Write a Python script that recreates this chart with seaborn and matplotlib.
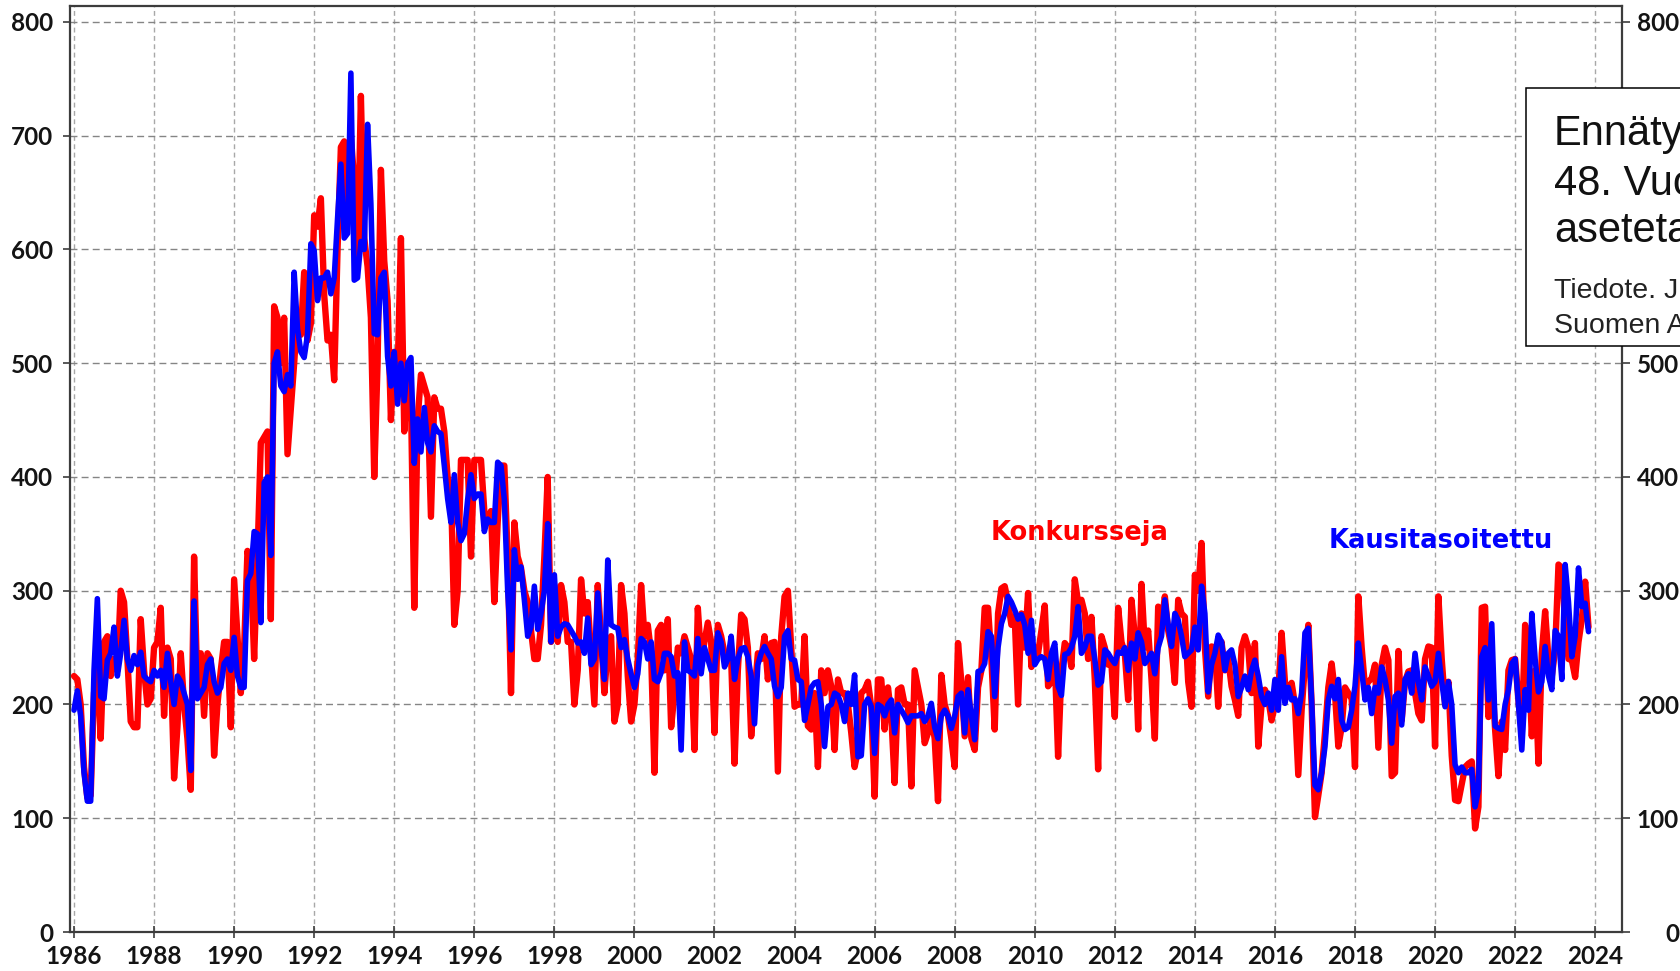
import numpy as np
import pandas as pd
import matplotlib
matplotlib.use("Agg")
import matplotlib.pyplot as plt
from matplotlib.patches import Rectangle
import seaborn as sns

# ---------------- data (monthly, from Jan 1986) ----------------
start_year = 1986

konk_1986_1989 = [
    225, 222, 200, 145, 118, 120, 210, 240, 170, 255, 260, 225,   # 1986
    240, 230, 300, 290, 240, 185, 180, 180, 275, 230, 200, 205,   # 1987
    250, 255, 285, 190, 250, 240, 135, 180, 245, 200, 170, 125,   # 1988
    330, 210, 245, 190, 245, 240, 155, 200, 230, 255, 255, 180,   # 1989
]
konk_1990s = [
    310, 260, 210, 250, 335, 320, 240, 330, 430, 435, 440, 275,   # 1990
    550, 540, 500, 540, 420, 460, 500, 545, 525, 580, 520, 535,   # 1991
    630, 620, 645, 560, 520, 525, 485, 600, 690, 695, 640, 700,   # 1992
    660, 590, 735, 610, 585, 540, 400, 500, 670, 590, 555, 450,   # 1993
    510, 490, 610, 440, 490, 470, 285, 450, 490, 480, 470, 365,   # 1994
    470, 460, 460, 440, 400, 390, 270, 300, 415, 415, 415, 330,   # 1995
    415, 415, 415, 370, 360, 370, 290, 360, 410, 410, 330, 210,   # 1996
    360, 330, 320, 300, 290, 265, 240, 240, 270, 330, 400, 255,   # 1997
    305, 255, 305, 290, 255, 255, 200, 230, 310, 280, 290, 245,   # 1998
    200, 305, 260, 210, 250, 260, 185, 200, 305, 280, 225, 185,   # 1999
]
konk_2000s = [
    200, 240, 305, 260, 270, 245, 140, 265, 270, 230, 275, 180,   # 2000
    210, 250, 245, 260, 250, 240, 160, 285, 240, 255, 272, 255,   # 2001
    175, 270, 260, 245, 245, 240, 148, 230, 279, 275, 250, 172,   # 2002
    210, 245, 240, 260, 222, 254, 255, 141, 260, 295, 300, 250,   # 2003
    198, 200, 200, 260, 181, 178, 210, 145, 230, 210, 230, 216,   # 2004
    160, 222, 210, 210, 200, 175, 145, 160, 210, 213, 220, 198,   # 2005
    119, 222, 222, 178, 215, 190, 131, 213, 215, 200, 200, 128,   # 2006
    230, 215, 200, 166, 175, 190, 170, 115, 226, 200, 190, 170,   # 2007
    145, 254, 220, 172, 224, 170, 160, 215, 230, 285, 285, 240,   # 2008
    178, 280, 302, 304, 290, 270, 277, 200, 280, 250, 298, 233,   # 2009
]
konk_2010s = [
    250, 245, 265, 287, 216, 220, 240, 154, 230, 254, 250, 233,   # 2010
    310, 290, 292, 280, 240, 277, 222, 143, 260, 250, 235, 235,   # 2011
    189, 285, 255, 245, 204, 292, 260, 178, 306, 250, 265, 222,   # 2012
    170, 286, 270, 295, 265, 250, 219, 292, 280, 277, 220, 198,   # 2013
    314, 300, 342, 250, 207, 251, 250, 198, 255, 230, 240, 216,   # 2014
    204, 190, 250, 260, 250, 210, 254, 163, 200, 213, 205, 186,   # 2015
    200, 210, 263, 220, 210, 219, 200, 138, 195, 235, 270, 200,   # 2016
    101, 120, 140, 175, 215, 236, 210, 163, 180, 215, 210, 205,   # 2017
    145, 295, 250, 215, 220, 223, 235, 162, 235, 250, 239, 137,   # 2018
    140, 247, 186, 220, 229, 230, 210, 192, 186, 240, 251, 250,   # 2019
]
konk_2020s = [
    163, 295, 240, 200, 220, 155, 116, 115, 130, 145, 148, 150,   # 2020
    91, 110, 285, 286, 189, 230, 178, 137, 185, 160, 230, 239,    # 2021
    240, 204, 175, 270, 248, 172, 230, 148, 245, 282, 240, 225,   # 2022
    248, 323, 320, 270, 240, 239, 224, 255, 275, 308, 268,        # 2023
]

kaus_1986_1989 = [
    195, 212, 190, 140, 115, 115, 230, 293, 207, 205, 239, 245,   # 1986
    268, 225, 245, 274, 240, 230, 243, 235, 246, 225, 222, 220,   # 1987
    230, 225, 230, 215, 245, 220, 200, 225, 220, 210, 200, 142,   # 1988
    291, 205, 210, 215, 235, 240, 220, 210, 215, 236, 240, 230,   # 1989
]
kaus_1990s = [
    259, 225, 215, 215, 309, 315, 352, 350, 272, 395, 400, 331,   # 1990
    500, 510, 480, 475, 490, 480, 580, 530, 510, 505, 525, 605,   # 1991
    599, 555, 575, 575, 580, 561, 575, 627, 675, 610, 614, 755,   # 1992
    573, 575, 607, 600, 710, 640, 526, 525, 575, 580, 506, 480,   # 1993
    510, 464, 500, 467, 500, 505, 412, 451, 422, 461, 430, 422,   # 1994
    445, 440, 438, 410, 381, 360, 402, 360, 344, 350, 380, 402,   # 1995
    381, 385, 385, 352, 363, 360, 360, 413, 410, 380, 300, 248,   # 1996
    336, 310, 321, 292, 260, 268, 304, 266, 280, 300, 359, 255,   # 1997
    314, 260, 268, 271, 270, 265, 260, 254, 255, 245, 276, 235,   # 1998
    240, 298, 250, 222, 327, 270, 268, 267, 250, 257, 240, 227,   # 1999
]
kaus_2000s = [
    215, 227, 258, 255, 240, 255, 222, 220, 228, 245, 245, 242,   # 2000
    225, 228, 160, 255, 230, 228, 225, 258, 227, 250, 240, 230,   # 2001
    230, 263, 255, 233, 240, 260, 222, 240, 249, 250, 242, 225,   # 2002
    183, 235, 245, 251, 245, 240, 216, 207, 215, 260, 265, 240,   # 2003
    239, 222, 220, 186, 200, 215, 219, 220, 200, 163, 198, 200,   # 2004
    210, 208, 200, 185, 210, 200, 226, 154, 155, 200, 205, 198,   # 2005
    157, 200, 198, 190, 200, 204, 175, 200, 195, 190, 184, 190,   # 2006
    190, 190, 192, 185, 190, 201, 180, 170, 190, 195, 190, 179,   # 2007
    190, 207, 210, 175, 213, 190, 169, 229, 230, 236, 264, 260,   # 2008
    207, 250, 271, 280, 295, 290, 283, 275, 279, 270, 245, 274,   # 2009
]
kaus_2010s = [
    235, 240, 242, 240, 222, 245, 254, 216, 208, 244, 245, 250,   # 2010
    260, 286, 245, 250, 260, 260, 240, 217, 220, 248, 245, 240,   # 2011
    236, 246, 245, 250, 230, 254, 240, 263, 255, 236, 240, 245,   # 2012
    227, 250, 260, 292, 270, 251, 280, 274, 260, 242, 245, 248,   # 2013
    268, 248, 304, 280, 211, 235, 245, 261, 255, 230, 245, 248,   # 2014
    235, 207, 215, 225, 213, 230, 239, 225, 207, 200, 210, 195,   # 2015
    222, 195, 242, 201, 215, 204, 205, 192, 210, 263, 267, 204,   # 2016
    129, 125, 140, 163, 204, 216, 205, 222, 186, 178, 180, 195,   # 2017
    216, 254, 230, 204, 215, 192, 215, 210, 233, 222, 204, 166,   # 2018
    207, 210, 182, 222, 227, 210, 245, 220, 204, 233, 225, 216,   # 2019
]
kaus_2020s = [
    220, 245, 220, 198, 220, 200, 147, 140, 145, 140, 140, 143,   # 2020
    110, 125, 242, 250, 204, 271, 181, 179, 178, 200, 213, 236,   # 2021
    240, 200, 160, 213, 195, 280, 240, 211, 220, 251, 225, 213,   # 2022
    265, 260, 222, 323, 290, 242, 260, 320, 286, 289, 264,        # 2023
]

x_ticks = list(range(1986, 2025, 2))
y_ticks = list(range(0, 801, 100))
right_hidden = [600, 700]          # right-hand labels covered by the info box

label_konk = "Konkursseja"
label_kaus = "Kausitasoitettu"
box_big = ["Ennätyksellinen", "48. Vuoden", "asetetaan"]
box_small = ["Tiedote. Julkaistu", "Suomen Asiakastieto"]

# ---------------- build frame ----------------
konk = konk_1986_1989 + konk_1990s + konk_2000s + konk_2010s + konk_2020s
kaus = kaus_1986_1989 + kaus_1990s + kaus_2000s + kaus_2010s + kaus_2020s
n = min(len(konk), len(kaus))
t = start_year + np.arange(n) / 12.0
df = pd.DataFrame({"aika": t, "Konkursseja": konk[:n], "Kausitasoitettu": kaus[:n]})

# ---------------- style ----------------
sns.set_style("white")
plt.rcParams["font.family"] = ["Lato", "DejaVu Sans"]

W, H = 1681, 971
fig = plt.figure(figsize=(W / 100, H / 100), dpi=100)
L, R, B, T = 70, 1622, 932, 6
ax = fig.add_axes([L / W, 1 - B / H, (R - L) / W, (B - T) / H])

sns.lineplot(data=df, x="aika", y="Konkursseja", color="#ff0000", lw=4.6,
             ax=ax, zorder=3)
sns.lineplot(data=df, x="aika", y="Kausitasoitettu", color="#0000ff", lw=4.0,
             ax=ax, zorder=4)

ax.set_xlim(1985.9, 2024.67)
ax.set_ylim(0, 814)
ax.set_xticks(x_ticks)
ax.set_xticklabels([str(v) for v in x_ticks])
ax.set_yticks(y_ticks)
ax.set_yticklabels([str(v) for v in y_ticks])
ax.set_xlabel("")
ax.set_ylabel("")

ax.set_axisbelow(True)
ax.xaxis.grid(True, color="#a8a8a8", lw=1.0, ls=(0, (3.5, 2.5)))
ax.yaxis.grid(True, color="#858585", lw=1.0, ls=(0, (5, 3)))

for s in ax.spines.values():
    s.set_visible(True)
    s.set_color("#3c3c3c")
    s.set_linewidth(1.6)

tick_family = ["Lato", "DejaVu Sans"]
tick_size = 17.5
ax.tick_params(axis="y", which="major", direction="out", length=5, width=1.2,
               color="#3c3c3c", pad=7, left=True, labelcolor="#141414")
ax.tick_params(axis="x", which="major", direction="inout", length=9, width=1.2,
               color="#3c3c3c", pad=5, bottom=True, labelcolor="#141414")
for lbl in ax.get_xticklabels() + ax.get_yticklabels():
    lbl.set_fontfamily(tick_family)
    lbl.set_fontweight("bold")
    lbl.set_fontsize(tick_size)

# right-hand axis with the same scale
ax2 = ax.twinx()
ax2.set_ylim(ax.get_ylim())
ax2.set_yticks(y_ticks)
ax2.set_yticklabels(["" if v in right_hidden else str(v) for v in y_ticks])
ax2.tick_params(axis="y", direction="out", length=6, width=1.2, color="#3c3c3c",
                pad=35, labelcolor="#141414")
for lbl in ax2.get_yticklabels():
    lbl.set_horizontalalignment("right")
    lbl.set_fontfamily(tick_family)
    lbl.set_fontweight("bold")
    lbl.set_fontsize(tick_size)
for s in ax2.spines.values():
    s.set_visible(False)
ax2.grid(False)

# series labels
ax.text(2011.11, 351, label_konk, color="#ff0000", fontsize=18.5,
        fontweight="bold", family="DejaVu Sans", ha="center", va="center",
        zorder=6)
ax.text(2020.15, 344, label_kaus, color="#0000ff", fontsize=18.5,
        fontweight="bold", family="DejaVu Sans", ha="center", va="center",
        zorder=6)

# info box (cut off by the right figure edge, as in the original)
box = Rectangle((1526 / W, 1 - 346 / H), (1900 - 1526) / W, (346 - 88) / H,
                transform=fig.transFigure, facecolor="white",
                edgecolor="black", lw=1.1, zorder=10)
fig.add_artist(box)
for txt, yb in zip(box_big, [145, 195, 242]):
    fig.text(1554 / W, 1 - yb / H, txt, fontsize=30, family="Liberation Sans",
             color="#111111", va="baseline", ha="left", zorder=11)
for txt, yb in zip(box_small, [298, 333]):
    fig.text(1554 / W, 1 - yb / H, txt, fontsize=20.5, family="Liberation Sans",
             color="#222222", va="baseline", ha="left", zorder=11)

fig.savefig("out.png", dpi=100)
